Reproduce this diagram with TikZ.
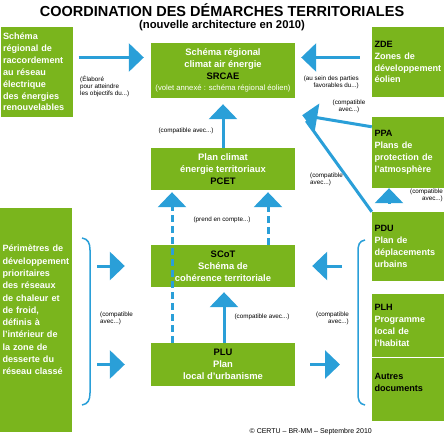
\documentclass[tikz,border=0pt]{standalone}
\usepackage{fontspec}
\setmainfont{Liberation Sans}
\usetikzlibrary{arrows.meta}
\definecolor{leaf}{HTML}{7AB51D}
\definecolor{sky}{HTML}{2A9FD8}
\newcommand{\acro}[1]{{\color{black}#1}}
\tikzset{
  box/.style={fill=leaf,text=white,font=\fontsize{9.4}{11.8}\selectfont\bfseries,
    inner sep=3pt,align=center,minimum width=144pt},
  sidebox/.style={box,align=left,minimum width=72pt,text width=67pt,inner xsep=2.5pt,
    font=\fontsize{9.1}{11.9}\selectfont\bfseries},
  note/.style={font=\fontsize{6.3}{7}\selectfont,text=black,inner sep=0pt},
  ttl/.style={font=\fontsize{14.5}{16}\selectfont\bfseries,inner sep=0pt},
  subttl/.style={font=\fontsize{11.3}{13}\selectfont\bfseries,inner sep=0pt},
  arr/.style={-{Triangle[length=15pt,width=28pt]},line width=3pt,draw=sky},
  darr/.style={arr,dash pattern=on 7pt off 4pt},
  brk/.style={draw=sky,line width=1.5pt},
}
\begin{document}
\begin{tikzpicture}[x=1pt,y=-1pt]
  \useasboundingbox (0,0) rectangle (444,438);
  \node[ttl] (title) at (222,10) {COORDINATION DES DÉMARCHES TERRITORIALES};
  \node[subttl] (subtitle) at (222,26) {(nouvelle architecture en 2010)};
  % central column
  \node[box,minimum height=55pt] (srcae) at (223,70.5) {Schéma régional\\climat air énergie\\\acro{SRCAE}\\{\mdseries\fontsize{7.7}{9}\selectfont(volet annexé : schéma régional éolien)}};
  \node[box,minimum height=42pt] (pcet) at (223,169) {Plan climat\\énergie territoriaux\\\acro{PCET}};
  \node[box,minimum height=42pt] (scot) at (223,266) {\acro{SCoT}\\Schéma de\\cohérence territoriale};
  \node[box,minimum height=43pt] (plu) at (223,364.5) {\acro{PLU}\\Plan\\local d'urbanisme};
  % left column
  \node[sidebox,minimum height=90pt] (rega) at (36.5,72) {Schéma\\régional de\\raccordement\\au réseau\\électrique\\des énergies\\renouvelables};
  \node[sidebox,minimum height=224pt,font=\fontsize{9.1}{12.3}\selectfont\bfseries,text depth=143pt] (peri) at (36,320) {Périmètres de\\développement\\prioritaires\\des réseaux\\de chaleur et\\de froid,\\définis à\\l'intérieur de\\la zone de\\desserte du\\réseau classé};
  % right column
  \node[sidebox,minimum height=70pt] (zde) at (408,62) {\acro{ZDE}\\Zones de\\développement\\éolien};
  \node[sidebox,minimum height=71pt] (ppa) at (408,152.5) {\acro{PPA}\\Plans de\\protection de\\l'atmosphère};
  \node[sidebox,minimum height=69pt] (pdu) at (408,246.5) {\acro{PDU}\\Plan de\\déplacements\\urbains};
  \node[sidebox,minimum height=63pt] (plh) at (408,325.5) {\acro{PLH}\\Programme\\local de\\l'habitat};
  \node[sidebox,minimum height=63pt,text depth=26pt] (autres) at (408,389.5) {\acro{Autres}\\\acro{documents}};
  % arrows to SRCAE
  \coordinate (ya) at ([yshift=13pt]srcae.west);
  \coordinate (yz) at ([yshift=13pt]srcae.east);
  \coordinate (tip) at ([xshift=7pt,yshift=-17pt]srcae.south east);
  \draw[arr,shorten <=6pt,shorten >=7pt] (ya -| rega.east) -- (ya);
  \draw[arr,shorten <=12pt,shorten >=6pt] (yz -| zde.west) -- (yz);
  \draw[arr] ([yshift=-10pt]ppa.north west) -- (tip);
  \draw[arr,-,shorten >=7pt] (pdu.north west) -- (tip);
  \draw[arr,shorten <=8pt] ([xshift=-19pt]pdu.north) -- ([xshift=-19pt]ppa.south);
  \draw[arr,shorten >=6pt] (pcet.north) -- (srcae.south);
  % PCET, SCoT, PLU
  \draw[darr,shorten >=2pt] ([xshift=-51pt]plu.north) -- ([xshift=-51pt]pcet.south);
  \draw[darr,shorten >=2pt] ([xshift=45pt]scot.north) -- ([xshift=45pt]pcet.south);
  \draw[arr,shorten >=5pt] ([xshift=1pt]plu.north) -- ([xshift=1pt]scot.south);
  % brackets
  \coordinate (lbr) at (90,320);
  \coordinate (rbr) at (358,320);
  \draw[brk] (82,238) .. controls (88,239) and (90,243) .. (90,250) -- (90,393) .. controls (90,400) and (88,404) .. (82,405);
  \draw[brk] (365,240) .. controls (359,241) and (358,245) .. (358,252) -- (358,393) .. controls (358,400) and (359,404) .. (365,405);
  \draw[arr,shorten <=7pt,shorten >=26pt] (lbr |- scot.west) -- (scot.west);
  \draw[arr,shorten <=7pt,shorten >=26pt] (lbr |- plu.west) -- (plu.west);
  \draw[arr,shorten <=16pt,shorten >=17pt] (rbr |- scot.east) -- (scot.east);
  \draw[arr,shorten <=15pt,shorten >=18pt] (plu.east) -- (rbr |- plu.east);
  % labels
  \node[note,align=left,anchor=north west] (ela) at (80,76) {(Élaboré\\pour atteindre\\les objectifs du...)};
  \node[note,align=right,anchor=north east] (sein) at (359,76) {(au sein des parties\\favorables du...)};
  \node[note,align=center] (cppa) at (349,106) {(compatible\\avec...)};
  \node[note,align=left,anchor=north west] (cpdu) at (310,173) {(compatible\\avec...)};
  \node[note,align=right,anchor=north east] (cpp) at (443,189) {(compatible\\avec...)};
  \node[note] (cpcet) at (186,131) {(compatible avec...)};
  \node[note] (prend) at (222,220) {(prend en compte...)};
  \node[note] (cplu) at (262,317) {(compatible avec...)};
  \node[note,align=left,anchor=north west] (cleft) at (100,312) {(compatible\\avec...)};
  \node[note,align=right,anchor=north east] (cright) at (349,312) {(compatible\\avec...)};
  \node[note,font=\fontsize{7}{8}\selectfont,anchor=east] (copy) at (372,432) {© CERTU – BR-MM – Septembre 2010};
\end{tikzpicture}
\end{document}
